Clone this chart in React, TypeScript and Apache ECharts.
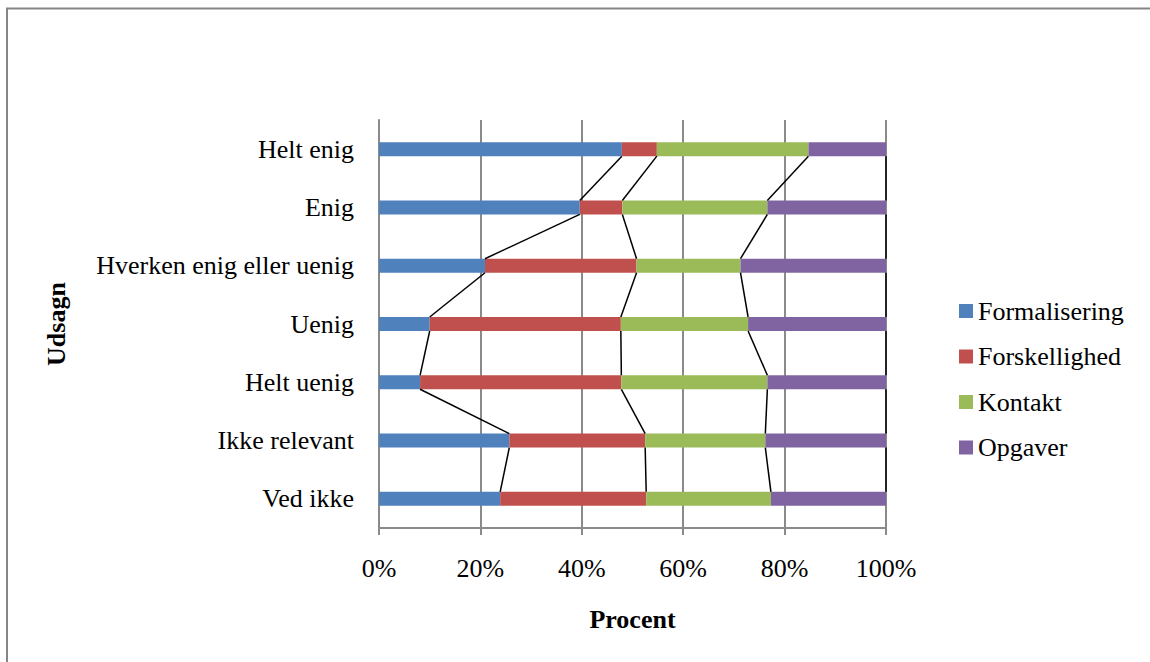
import React, { useEffect, useRef } from "react";
import * as echarts from "echarts";

const categories = [
  "Helt enig",
  "Enig",
  "Hverken enig eller uenig",
  "Uenig",
  "Helt uenig",
  "Ikke relevant",
  "Ved ikke",
];
const formalisering = [47.9, 39.6, 20.9, 10.0, 8.1, 25.7, 23.9];
const forskellighed = [6.9, 8.4, 29.9, 37.7, 39.7, 26.8, 28.8];
const kontakt = [29.9, 28.6, 20.5, 25.1, 28.8, 23.7, 24.6];
const opgaver = [15.3, 23.4, 28.7, 27.2, 23.4, 23.8, 22.7];
const seriesNames = ["Formalisering", "Forskellighed", "Kontakt", "Opgaver"];
const colors = ["#4F81BD", "#C0504D", "#9BBB59", "#8064A2"];
const xTicks = [0, 20, 40, 60, 80, 100];

const FONT = "'Liberation Serif', 'Times New Roman', serif";

export default function App() {
  const ref = useRef<HTMLDivElement>(null);
  useEffect(() => {
    if (!ref.current) return;
    const chart = echarts.init(ref.current, undefined, { renderer: "svg" });
    const values = [formalisering, forskellighed, kontakt, opgaver];
    const cum: number[][] = categories.map((_, i) => {
      let s = 0;
      return values.map((arr) => (s += arr[i]));
    });
    const lineData: number[][] = [];
    for (let i = 0; i < categories.length - 1; i++) {
      for (let k = 0; k < values.length; k++) {
        lineData.push([cum[i][k], i, cum[i + 1][k], i + 1]);
      }
    }
    const half = 7;
    chart.setOption({
      animation: false,
      backgroundColor: "#ffffff",
      textStyle: { fontFamily: FONT },
      graphic: [
        {
          type: "rect",
          shape: { x: 7, y: 8.5, width: 1200, height: 700 },
          style: { fill: "none", stroke: "#868686", lineWidth: 2 },
          silent: true,
        },
      ],
      grid: { left: 379, top: 120, width: 507, height: 408, containLabel: false },
      legend: {
        data: seriesNames,
        orient: "vertical",
        left: 954,
        top: 293,
        itemWidth: 14,
        itemHeight: 14,
        itemGap: 19.5,
        icon: "rect",
        textStyle: { fontFamily: FONT, fontSize: 26, color: "#000" },
      },
      xAxis: {
        type: "value",
        min: 0,
        max: 100,
        interval: 20,
        name: "Procent",
        nameLocation: "middle",
        nameGap: 78,
        nameTextStyle: { fontFamily: FONT, fontSize: 26, fontWeight: "bold", color: "#000" },
        axisLine: { show: true, lineStyle: { color: "#8a8a8a", width: 2 } },
        axisTick: { show: true, length: 7, lineStyle: { color: "#8a8a8a", width: 2 } },
        axisLabel: {
          margin: 27,
          fontFamily: FONT,
          fontSize: 26,
          color: "#000",
          formatter: (v: number) => (xTicks.includes(v) ? v + "%" : ""),
        },
        splitLine: { show: true, lineStyle: { color: "#8a8a8a", width: 2 } },
      },
      yAxis: {
        type: "category",
        data: categories,
        inverse: true,
        name: "Udsagn",
        nameLocation: "middle",
        nameGap: 310,
        nameTextStyle: { fontFamily: FONT, fontSize: 26, fontWeight: "bold", color: "#000" },
        axisLine: { show: true, lineStyle: { color: "#8a8a8a", width: 2 } },
        axisTick: { show: false },
        axisLabel: { margin: 25, fontFamily: FONT, fontSize: 26, color: "#000" },
        splitLine: { show: false },
      },
      series: [
        ...seriesNames.map((name, k) => ({
          name,
          type: "bar",
          stack: "total",
          barWidth: 14,
          itemStyle: { color: colors[k] },
          data: values[k],
          silent: true,
        })),
        {
          type: "custom",
          name: "serieslines",
          coordinateSystem: "cartesian2d",
          encode: { x: [0, 2], y: [1, 3] },
          silent: true,
          z: 3,
          data: lineData,
          renderItem: (params: any, api: any) => {
            const p1 = api.coord([api.value(0), api.value(1)]);
            const p2 = api.coord([api.value(2), api.value(3)]);
            return {
              type: "line",
              shape: { x1: p1[0], y1: p1[1] + half, x2: p2[0], y2: p2[1] - half },
              style: { stroke: "#000", lineWidth: 1.5 },
            };
          },
        },
      ],
    });
    return () => chart.dispose();
  }, []);
  return (
    <div style={{ position: "fixed", left: 0, top: 0, width: 1150, height: 662, overflow: "hidden" }}>
      <div ref={ref} style={{ width: 1150, height: 662 }} />
    </div>
  );
}
